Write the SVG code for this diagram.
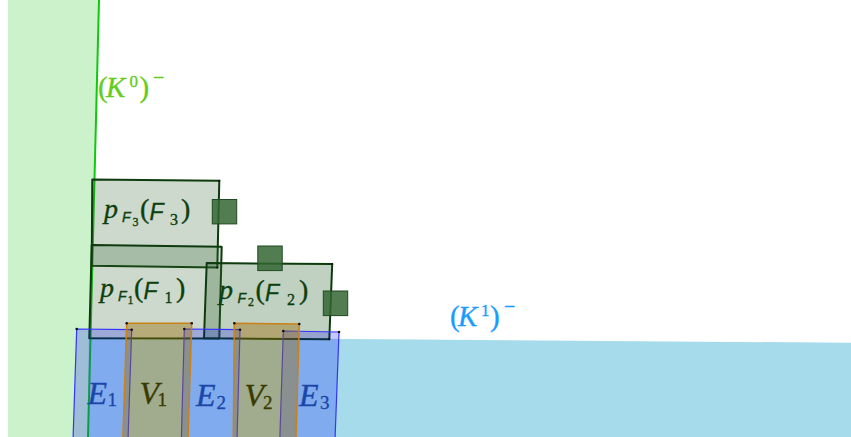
<svg xmlns="http://www.w3.org/2000/svg" width="851" height="437" viewBox="0 0 851 437">
<style>
.box{fill:#336633;fill-opacity:0.25;stroke:#0d3b0d;stroke-width:2;stroke-linejoin:round}
.sq{fill:#336633;fill-opacity:0.85;stroke:#204a20;stroke-width:1}
.erect{fill:#0000ff;fill-opacity:0.22;stroke:#3333ff;stroke-width:1.2}
.vrect{fill:#996600;fill-opacity:0.4;stroke:#c98218;stroke-width:1.5}
.dot{fill:#111}
.m{font-family:"Liberation Serif",serif;stroke-width:0.35}
.i{font-style:italic}
.cal{font-family:"Liberation Sans",sans-serif;font-style:italic}
.k0{fill:#66cc1a;stroke:#66cc1a;font-size:29px}
.k1{fill:#1a9cff;stroke:#1a9cff;font-size:29px}
.el{fill:#1a47a8;stroke:#1a47a8;font-size:32px}
.vl{fill:#3a3a00;stroke:#3a3a00;font-size:32px}
.pl{fill:#0d400d;stroke:#0d400d;font-size:28px}
</style>
<g id="regions">
<polygon points="8,0 99,0 88,437 8,437" fill="#ccf2cc"/>
<polygon points="88.6,337 851,342.8 851,437 88,437" fill="#a6dbeb"/>
<line x1="99" y1="0" x2="88" y2="437" stroke="#10c810" stroke-width="2"/>
</g>
<g id="F3box"><polygon class="box" points="92.3,179.5 219.3,180.8 217.3,267.5 91.7,265.7"/></g>
<g id="F1box"><polygon class="box" points="91.7,245 221.7,246.7 219.3,338.5 89.3,338.3"/></g>
<g id="F2box"><polygon class="box" style="fill-opacity:0.3" points="206.7,263 332.2,264 329.3,339.2 204,338.3"/></g>
<g id="squares">
<rect class="sq" x="212.3" y="199.5" width="24.4" height="24.4"/>
<rect class="sq" x="257.8" y="246" width="24.4" height="24.6"/>
<rect class="sq" x="323.3" y="291" width="24.4" height="24.6"/>
</g>
<g id="E1"><polygon class="erect" points="76.7,329 131.7,329.7 128,440 73,440"/></g>
<g id="E2"><polygon class="erect" points="184.3,329 240,329.7 237,440 181.3,440"/></g>
<g id="E3"><polygon class="erect" points="283.3,331 339,332 335,440 279.8,440"/></g>
<g id="V1"><polygon class="vrect" points="126.7,323.3 191.7,323.3 188,440 122.8,440"/></g>
<g id="V2"><polygon class="vrect" points="234.3,323.3 299.3,324 296,440 233.3,440"/></g>
<g id="dots">
<circle class="dot" cx="76.7" cy="329" r="1.3"/><circle class="dot" cx="131.7" cy="329.7" r="1.3"/>
<circle class="dot" cx="184.3" cy="329" r="1.3"/><circle class="dot" cx="240" cy="329.7" r="1.3"/>
<circle class="dot" cx="283.3" cy="331" r="1.3"/><circle class="dot" cx="339" cy="332" r="1.3"/>
<circle class="dot" cx="126.7" cy="323.3" r="1.3"/><circle class="dot" cx="191.7" cy="323.3" r="1.3"/>
<circle class="dot" cx="234.3" cy="323.3" r="1.3"/><circle class="dot" cx="299.3" cy="324" r="1.3"/>
<circle class="dot" cx="219.3" cy="180.8" r="1.1"/><circle class="dot" cx="217.3" cy="267.5" r="1.1"/>
<circle class="dot" cx="332.2" cy="264" r="1.1"/><circle class="dot" cx="329.3" cy="339.2" r="1.1"/>
</g>
<g id="labels">
<text class="m k0" y="97"><tspan x="98">(</tspan><tspan class="i" x="106">K</tspan><tspan x="129.5" y="87" font-size="17">0</tspan><tspan x="139.5" y="97">)</tspan><tspan x="153" y="84" font-size="20">−</tspan></text>
<text class="m k1" y="326"><tspan x="450">(</tspan><tspan class="i" x="458">K</tspan><tspan x="481" y="316" font-size="17">1</tspan><tspan x="490" y="326">)</tspan><tspan x="504" y="313" font-size="20">−</tspan></text>
<text class="m el" y="403.5"><tspan class="i" x="87.5">E</tspan><tspan x="107.5" y="406" font-size="19">1</tspan></text>
<text class="m vl" y="403.5"><tspan class="i" x="139.5">V</tspan><tspan x="157.5" y="406" font-size="19">1</tspan></text>
<text class="m el" y="405.5"><tspan class="i" x="196">E</tspan><tspan x="216.5" y="408.5" font-size="19">2</tspan></text>
<text class="m vl" y="405.5"><tspan class="i" x="244.5">V</tspan><tspan x="263" y="408.5" font-size="19">2</tspan></text>
<text class="m el" y="405.5"><tspan class="i" x="299">E</tspan><tspan x="320" y="408.5" font-size="19">3</tspan></text>
<text class="m pl" y="218"><tspan class="i" x="104">p</tspan><tspan class="cal" x="122" y="222" font-size="14">F</tspan><tspan x="132.5" y="225.5" font-size="12">3</tspan><tspan x="140" y="218">(</tspan><tspan class="cal" x="149.5" y="220" font-size="23">F</tspan><tspan x="170" y="224.5" font-size="16">3</tspan><tspan x="181" y="218">)</tspan></text>
<text class="m pl" y="296.5"><tspan class="i" x="100">p</tspan><tspan class="cal" x="118" y="300.5" font-size="14">F</tspan><tspan x="127.5" y="304" font-size="12">1</tspan><tspan x="134" y="296.5">(</tspan><tspan class="cal" x="143.5" y="298.5" font-size="23">F</tspan><tspan x="164.5" y="303" font-size="16">1</tspan><tspan x="176" y="296.5">)</tspan></text>
<text class="m pl" y="298.5"><tspan class="i" x="219">p</tspan><tspan class="cal" x="237.5" y="302.5" font-size="14">F</tspan><tspan x="248" y="306" font-size="12">2</tspan><tspan x="255.5" y="298.5">(</tspan><tspan class="cal" x="265" y="300.5" font-size="23">F</tspan><tspan x="287" y="305" font-size="16">2</tspan><tspan x="299" y="298.5">)</tspan></text>
</g>
</svg>
